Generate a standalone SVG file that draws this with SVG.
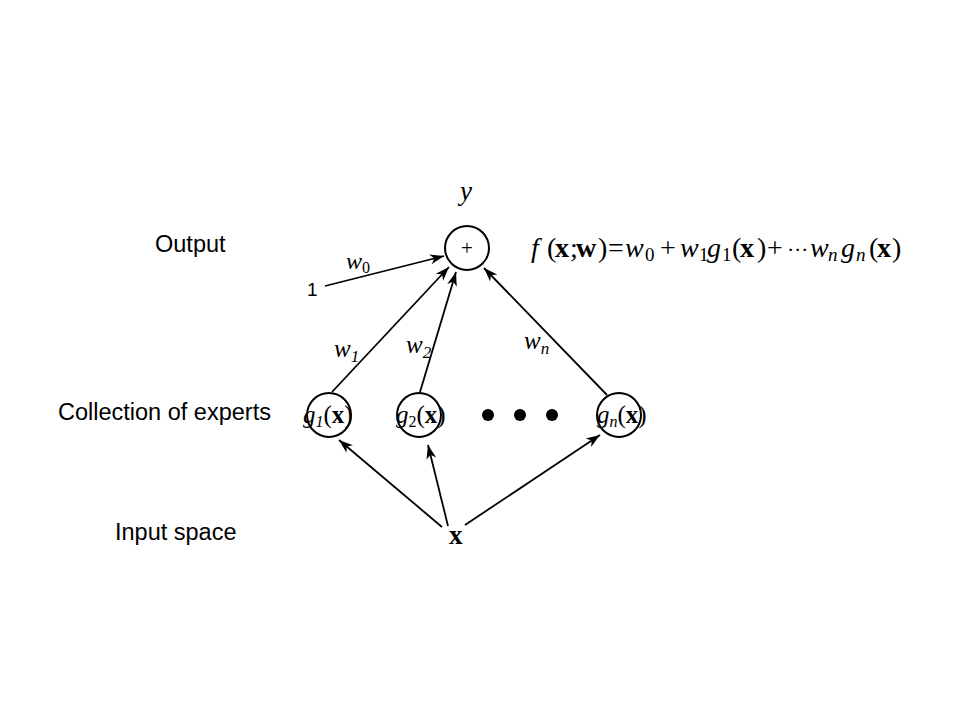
<svg xmlns="http://www.w3.org/2000/svg" width="960" height="720" viewBox="0 0 960 720">
<defs>
<style>
.lbl{font-family:"Liberation Sans",Arial,sans-serif;font-size:23.5px;fill:#000}
.m{font-family:"Liberation Serif","Times New Roman",serif;fill:#000}
.i{font-style:italic}
.b{font-weight:bold}
.node{fill:#fff;stroke:#000;stroke-width:2}
.edge{stroke:#000;stroke-width:1.8;fill:none}
.sub{font-size:19px}
</style>
<marker id="arr" markerUnits="userSpaceOnUse" markerWidth="16" markerHeight="12" refX="14" refY="6" orient="auto">
<path d="M0,1 L14,6 L0,11 L4,6 Z" fill="#000"/>
</marker>
</defs>
<rect width="960" height="720" fill="#fff"/>

<g id="labels">
<text class="lbl" x="155" y="252">Output</text>
<text class="lbl" x="58" y="420">Collection of experts</text>
<text class="lbl" x="115" y="540">Input space</text>
</g>

<g id="connectors">
<line class="edge" x1="325" y1="286" x2="444" y2="256" marker-end="url(#arr)"/>
<line class="edge" x1="332" y1="392" x2="449" y2="267" marker-end="url(#arr)"/>
<line class="edge" x1="420" y1="392" x2="456" y2="272" marker-end="url(#arr)"/>
<line class="edge" x1="607" y1="395" x2="484" y2="268" marker-end="url(#arr)"/>
<line class="edge" x1="442" y1="527" x2="339" y2="440" marker-end="url(#arr)"/>
<line class="edge" x1="448" y1="526" x2="428" y2="445" marker-end="url(#arr)"/>
<line class="edge" x1="465" y1="525" x2="600" y2="435" marker-end="url(#arr)"/>
<text class="m i" x="346" y="269" font-size="24">w<tspan font-size="16" dy="4" font-style="normal">0</tspan></text>
<text class="m i" x="334" y="357" font-size="25">w<tspan font-size="17" dy="5">1</tspan></text>
<text class="m i" x="406" y="353" font-size="25">w<tspan font-size="17" dy="5">2</tspan></text>
<text class="m i" x="524" y="349" font-size="25">w<tspan font-size="17" dy="5">n</tspan></text>
</g>

<g id="bias">
<text x="307" y="296" font-family="Liberation Sans,Arial,sans-serif" font-size="19">1</text>
</g>

<g id="sum">
<circle class="node" cx="467" cy="248" r="22"/>
<text class="m" x="467" y="255" font-size="21" text-anchor="middle" fill="#333">+</text>
<text class="m i" x="466" y="200" font-size="27" text-anchor="middle">y</text>
</g>

<g id="expert1">
<circle class="node" cx="329" cy="415" r="22"/>
<text class="m" x="303" y="423" font-size="25"><tspan class="i">g</tspan><tspan class="i" font-size="16" dy="4">1</tspan><tspan dy="-4">(</tspan><tspan class="b">x</tspan>)</text>
</g>

<g id="expert2">
<circle class="node" cx="419" cy="415" r="22"/>
<text class="m" x="396" y="423" font-size="25"><tspan class="i">g</tspan><tspan font-size="16" dy="4">2</tspan><tspan dy="-4">(</tspan><tspan class="b">x</tspan>)</text>
</g>

<g id="dots">
<circle cx="488" cy="415" r="6" fill="#000"/>
<circle cx="520" cy="415" r="6" fill="#000"/>
<circle cx="552" cy="415" r="6" fill="#000"/>
</g>

<g id="expertn">
<circle class="node" cx="619" cy="415" r="22"/>
<text class="m" x="597" y="423" font-size="25"><tspan class="i">g</tspan><tspan class="i" font-size="16" dy="4">n</tspan><tspan dy="-4">(</tspan><tspan class="b">x</tspan>)</text>
</g>

<g id="input">
<text class="m b" x="449" y="544" font-size="27">x</text>
</g>

<g id="formula">
<text class="m" font-size="28"><tspan class="i" x="531" y="257">f</tspan><tspan x="547" y="257">(</tspan><tspan class="b" x="555" y="257">x</tspan><tspan x="570" y="257">;</tspan><tspan class="b" x="576" y="257">w</tspan><tspan x="598" y="257">)</tspan><tspan x="608" y="257">=</tspan><tspan class="i" x="625" y="257">w</tspan><tspan class="sub" x="645" y="261">0</tspan><tspan x="660" y="257">+</tspan><tspan class="i" x="680" y="257">w</tspan><tspan class="sub" x="699" y="261">1</tspan><tspan class="i" x="707" y="257">g</tspan><tspan class="sub" x="722" y="261">1</tspan><tspan x="732" y="257">(</tspan><tspan class="b" x="740" y="257">x</tspan><tspan x="757" y="257">)</tspan><tspan x="767" y="257">+</tspan><tspan x="787" y="257" font-size="22">·</tspan><tspan x="794" y="257" font-size="22">·</tspan><tspan x="801" y="257" font-size="22">·</tspan><tspan class="i" x="810" y="257">w</tspan><tspan class="i sub" x="828" y="261">n</tspan><tspan class="i" x="841" y="257">g</tspan><tspan class="i sub" x="856" y="261">n</tspan><tspan x="869" y="257">(</tspan><tspan class="b" x="877" y="257">x</tspan><tspan x="892" y="257">)</tspan></text>
</g>
</svg>
